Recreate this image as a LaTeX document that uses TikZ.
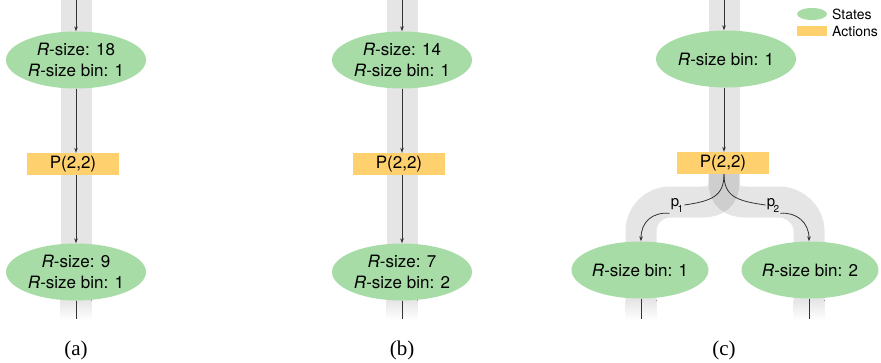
\documentclass[tikz,border=0pt]{standalone}
\usepackage{fontspec}
\setmainfont{Liberation Serif}
\newfontfamily\hv{TeX Gyre Heros}
\usetikzlibrary{arrows.meta,shapes.geometric}
\definecolor{stategreen}{HTML}{A7DCA7}
\definecolor{actyellow}{HTML}{FED16E}
\definecolor{lnc}{HTML}{333333}
\begin{document}
\begin{tikzpicture}[x=1pt,y=-1pt,
 state/.style={ellipse, fill=stategreen, minimum width=140pt, minimum height=57pt, inner sep=0pt, align=center, font=\hv\fontsize{17}{21}\selectfont},
 action/.style={rectangle, fill=actyellow, minimum width=92pt, minimum height=22pt, inner sep=0pt, font=\hv\fontsize{17}{20}\selectfont},
 band/.style={line width=31pt, draw=black, draw opacity=0.1, line cap=butt},
 fadeband/.style={top color=black!10, bottom color=white, draw=none},
 conn/.style={draw=lnc, line width=0.8pt, -{Stealth[length=5pt,width=3.6pt]}},
 plain/.style={draw=lnc, line width=0.8pt},
 captext/.style={font=\fontsize{21}{24}\selectfont},
 plabel/.style={font=\hv\fontsize{15}{15}\selectfont, inner sep=1pt},
 legtext/.style={font=\hv\fontsize{14}{16}\selectfont, anchor=west, inner sep=0pt}
]
\useasboundingbox (0,0) rectangle (881,362);
% ---------- bands
\draw[band] (76,0) -- (76,300);
\fill[fadeband] (60.5,300) rectangle (91.5,320);
\draw[band] (402,0) -- (402,300);
\fill[fadeband] (386.5,300) rectangle (417.5,320);
\draw[band] (724,0) -- (724,164);
\draw[band] (724,163) -- (724,182) .. controls (724,196) and (716,202) .. (702,202) -- (670,202) .. controls (654,202) and (641,215) .. (641,231) -- (641,300);
\draw[band] (724,163) -- (724,182) .. controls (724,196) and (732,202) .. (746,202) -- (779,202) .. controls (795,202) and (809,215) .. (809,231) -- (809,300);
\fill[fadeband] (625.5,300) rectangle (656.5,320);
\fill[fadeband] (793.5,300) rectangle (824.5,320);
% ---------- panel (a)
\node[state] (a1) at (76,60) {\textit{R}-size: 18\\\textit{R}-size bin: 1};
\node[action] (a2) at (73,164) {P(2,2)};
\node[state] (a3) at (76,272) {\textit{R}-size: 9\\\textit{R}-size bin: 1};
\coordinate (a0) at (76,0);
\coordinate (a4) at (76,319);
\draw[conn] (a0) -- (a1.north);
\draw[conn] (a1.south) -- (a1.south |- a2.north);
\draw[conn] (a1.south |- a2.south) -- (a3.north);
\draw[plain] (a3.south) -- (a4);
\node[captext] (capa) at (76,350) {(a)};
% ---------- panel (b)
\node[state] (b1) at (402,60) {\textit{R}-size: 14\\\textit{R}-size bin: 1};
\node[action] (b2) at (399,164) {P(2,2)};
\node[state] (b3) at (402,272) {\textit{R}-size: 7\\\textit{R}-size bin: 2};
\coordinate (b0) at (402,0);
\coordinate (b4) at (402,319);
\draw[conn] (b0) -- (b1.north);
\draw[conn] (b1.south) -- (b1.south |- b2.north);
\draw[conn] (b1.south |- b2.south) -- (b3.north);
\draw[plain] (b3.south) -- (b4);
\node[captext] (capb) at (402,350) {(b)};
% ---------- panel (c)
\node[state] (c1) at (726,59) {\textit{R}-size bin: 1};
\node[action] (c2) at (723,163) {P(2,2)};
\node[state, minimum width=137pt] (c3) at (640,270) {\textit{R}-size bin: 1};
\node[state, minimum width=137pt] (c4) at (810,270) {\textit{R}-size bin: 2};
\coordinate (c0) at (724,0);
\coordinate (c5) at (641,319);
\coordinate (c6) at (809,319);
\draw[conn] (c0) -- (c0 |- c1.north);
\draw[conn] (c0 |- c1.south) -- (c0 |- c2.north);
\node[plabel] (p1) at (677,205) {p\kern-1.5pt\raisebox{-6pt}{\fontsize{10}{10}\selectfont 1}};
\node[plabel] (p2) at (773,205) {p\kern-1.5pt\raisebox{-6pt}{\fontsize{10}{10}\selectfont 2}};
\draw[plain] (c0 |- c2.south) .. controls (724,196) and (712,201) .. (p1.east);
\draw[conn] (p1.south west) .. controls (652,212) and (641,222) .. (c3.north -| c5);
\draw[plain] (c0 |- c2.south) .. controls (724,196) and (736,201) .. (p2.west);
\draw[conn] (p2.south east) .. controls (796,212) and (809,222) .. (c4.north -| c6);
\draw[plain] (c3.south -| c5) -- (c5);
\draw[plain] (c4.south -| c6) -- (c6);
\node[captext] (capc) at (724,350) {(c)};
% ---------- legend
\node[ellipse, fill=stategreen, minimum width=30pt, minimum height=12pt, inner sep=0pt] (lg1) at (812,14) {};
\node[legtext] (lt1) at (832,14) {States};
\node[rectangle, fill=actyellow, minimum width=30pt, minimum height=10pt, inner sep=0pt] (lg2) at (812,31) {};
\node[legtext] (lt2) at (832,31) {Actions};
\end{tikzpicture}
\end{document}
